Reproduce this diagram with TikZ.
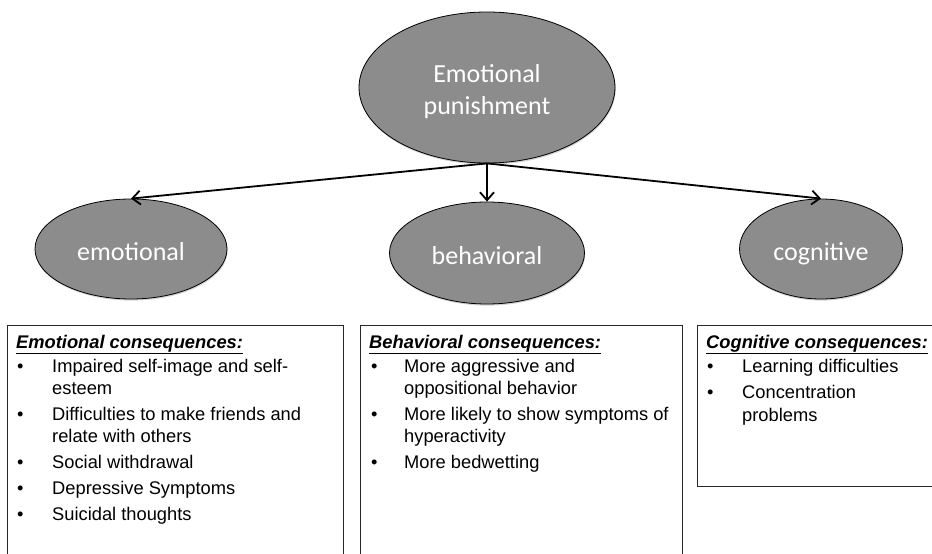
\documentclass[tikz,border=0pt]{standalone}
\usepackage{fontspec}
\setmainfont{Liberation Sans}
\newfontfamily\calfont{Carlito}
\usetikzlibrary{shapes.geometric,arrows.meta,shadows}
\definecolor{ellfill}{RGB}{140,140,140}
\definecolor{boxline}{RGB}{40,40,40}
\tikzset{
  ell/.style={ellipse, draw=black, line width=0.8pt, fill=ellfill, inner sep=0pt,
    text=white, align=center, font=\calfont\fontsize{26}{32}\selectfont,
    text height=22pt, text depth=0pt,
    drop shadow={shadow xshift=0.6pt, shadow yshift=-1.6pt, opacity=0.35}},
  elltxt/.style={anchor=base, inner sep=0pt, text=white, font=\calfont\fontsize{26}{32}\selectfont},
  arr/.style={line width=1.8pt, -{Straight Barb[length=8pt,width=14pt,line width=1.8pt]}},
  cbox/.style={draw=boxline, line width=1.4pt, fill=white, rectangle, inner sep=0pt, anchor=north west},
  hdr/.style={anchor=base west, inner sep=0pt, font=\fontsize{18.3}{21}\selectfont\bfseries\itshape},
  itm/.style={anchor=base west, inner sep=0pt, font=\fontsize{18.3}{21}\selectfont},
  bul/.style={anchor=base west, inner sep=0pt, font=\fontsize{18.3}{21}\selectfont}
}
\begin{document}
\begin{tikzpicture}[x=1pt,y=-1pt]
\useasboundingbox (0,0) rectangle (932,554);
% ellipses
\node[ell, minimum width=256pt, minimum height=151pt] (top) at (487,87.5) {};
\node[elltxt] (top1) at (487,82) {Emotional};
\node[elltxt] (top2) at (487,114) {punishment};
\node[ell, minimum width=192pt, minimum height=100pt] (emo) at (131,249) {emotional};
\node[ell, minimum width=195pt, minimum height=102pt] (beh) at (487,253) {behavioral};
\node[ell, minimum width=163pt, minimum height=100pt] (cog) at (821,249) {cognitive};
% arrows
\draw[arr] (top.south) -- (emo.north);
\draw[arr] (top.south) -- (beh.north);
\draw[arr] (top.south) -- (cog.north);
% boxes
\node[cbox, minimum width=336pt, minimum height=250pt] (emobox) at (7,325) {};
\node[cbox, minimum width=322pt, minimum height=250pt] (behbox) at (360,325) {};
\node[cbox, minimum width=260pt, minimum height=161pt] (cogbox) at (697,325) {};
% emotional box text
\node[hdr] (eh) at (16,348) {\underline{Emotional consequences:}};
\node[bul] (eb1) at (17,372) {•};
\node[itm] (e1a) at (52,372) {Impaired self-image and self-};
\node[itm] (e1b) at (52,394) {esteem};
\node[bul] (eb2) at (17,420) {•};
\node[itm] (e2a) at (52,420) {Difficulties to make friends and};
\node[itm] (e2b) at (52,442) {relate with others};
\node[bul] (eb3) at (17,468) {•};
\node[itm] (e3) at (52,468) {Social withdrawal};
\node[bul] (eb4) at (17,494) {•};
\node[itm] (e4) at (52,494) {Depressive Symptoms};
\node[bul] (eb5) at (17,520) {•};
\node[itm] (e5) at (52,520) {Suicidal thoughts};
% behavioral box text
\node[hdr] (bh) at (369,348) {\underline{Behavioral consequences:}};
\node[bul] (bb1) at (371,372) {•};
\node[itm] (b1a) at (404,372) {More aggressive and};
\node[itm] (b1b) at (404,394) {oppositional behavior};
\node[bul] (bb2) at (371,420) {•};
\node[itm] (b2a) at (404,420) {More likely to show symptoms of};
\node[itm] (b2b) at (404,442) {hyperactivity};
\node[bul] (bb3) at (371,468) {•};
\node[itm] (b3) at (404,468) {More bedwetting};
% cognitive box text
\node[hdr] (ch) at (706,348) {\underline{Cognitive consequences:}};
\node[bul] (cb1) at (707,372) {•};
\node[itm] (c1) at (742,372) {Learning difficulties};
\node[bul] (cb2) at (707,398) {•};
\node[itm] (c2a) at (742,398) {Concentration};
\node[itm] (c2b) at (742,421) {problems};
\end{tikzpicture}
\end{document}
